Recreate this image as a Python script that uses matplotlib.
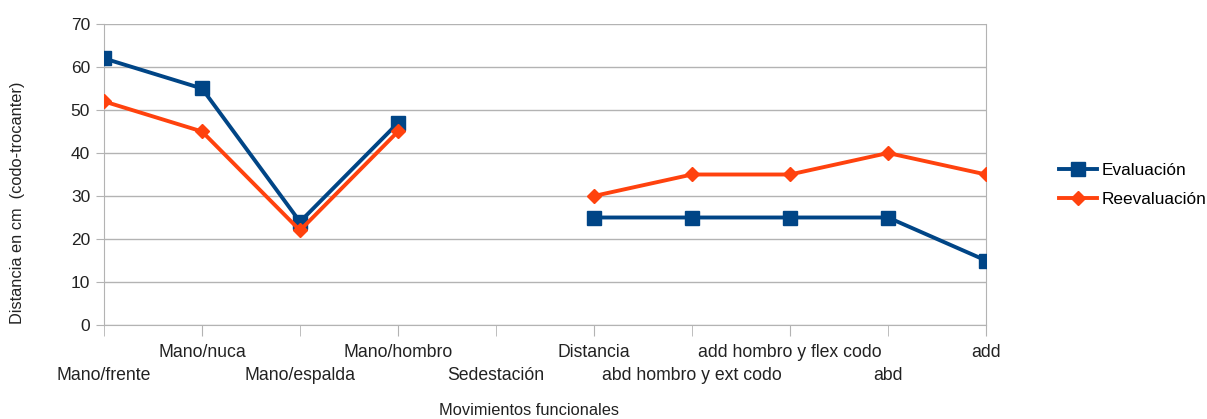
import matplotlib
matplotlib.use("Agg")
import matplotlib.pyplot as plt
import numpy as np

categories = ["Mano/frente", "Mano/nuca", "Mano/espalda", "Mano/hombro", "Sedestación",
              "Distancia", "abd hombro y ext codo", "add hombro y flex codo", "abd", "add"]
evaluacion = [62, 55, 24, 47, np.nan, 25, 25, 25, 25, 15]
reevaluacion = [52, 45, 22, 45, np.nan, 30, 35, 35, 40, 35]
yticks = [0, 10, 20, 30, 40, 50, 60, 70]

plt.rcParams['font.family'] = ['Liberation Sans', 'DejaVu Sans']

fig = plt.figure(figsize=(12.07, 4.19), dpi=100)
ax = fig.add_axes([104/1207, 1 - 325/419, (986-104)/1207, (325-24)/419])

x = np.arange(len(categories))
blue = "#004586"
orange = "#ff420e"
ax.plot(x, evaluacion, color=blue, lw=2.8, marker="s", ms=10, label="Evaluación", zorder=3)
ax.plot(x, reevaluacion, color=orange, lw=2.8, marker="D", ms=7.5, label="Reevaluación", zorder=4)

ax.set_xlim(0, len(categories) - 1)
ax.set_ylim(0, 70)
ax.set_yticks(yticks)
upper = x[1::2]
lower = x[0::2]
ax.set_xticks(upper)
ax.set_xticklabels([categories[i] for i in upper], fontsize=12.7, color="#222222")
ax.set_xticks(lower, minor=True)
ax.set_xticklabels([categories[i] for i in lower], minor=True, fontsize=12.7, color="#222222")
ax.tick_params(axis="x", which="major", length=8, color="#b3b3b3", pad=6)
ax.tick_params(axis="x", which="minor", length=8, color="#b3b3b3", pad=22)
ax.tick_params(axis="y", length=6, color="#b3b3b3", labelsize=12.5, pad=4, labelcolor="#222222")
ax.grid(axis="y", color="#b3b3b3", lw=1)
ax.set_axisbelow(True)
for s in ax.spines.values():
    s.set_color("#b3b3b3")
ax.spines["top"].set_visible(False)

fig.text(529/1207, 1 - 410/419, "Movimientos funcionales", ha="center", va="center", fontsize=11.8, color="#222222")
fig.text(18/1207, 1 - 203/419, "Distancia en cm  (codo-trocanter)", ha="center", va="center",
         rotation=90, fontsize=11.8, color="#222222")

leg = ax.legend(loc="center left", bbox_to_anchor=(1052/1207, 1 - 185/419), bbox_transform=fig.transFigure,
                frameon=False, fontsize=12.4, handlelength=2.2, handletextpad=0.3, labelspacing=0.85,
                borderaxespad=0)

fig.savefig("out.png", dpi=100)
